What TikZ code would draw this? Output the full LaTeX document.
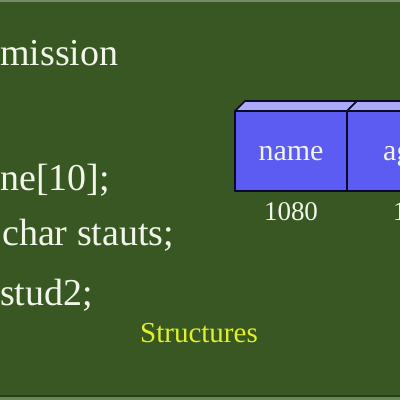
\documentclass[tikz,border=0pt]{standalone}
\usepackage{fontspec}
\setmainfont{Liberation Serif}
\definecolor{bg}{RGB}{56,87,35}
\definecolor{edgetop}{RGB}{120,140,108}
\definecolor{edgebot}{RGB}{105,135,85}
\definecolor{edgedark}{RGB}{40,62,26}
\definecolor{front}{RGB}{92,92,242}
\definecolor{topface}{RGB}{172,170,248}
\definecolor{boxline}{RGB}{10,10,40}
\definecolor{txt}{RGB}{242,246,234}
\definecolor{yel}{RGB}{226,240,40}
\tikzset{
  codetext/.style={text=txt, anchor=base west, inner sep=0pt, font=\fontsize{38}{40}\selectfont},
  boxlabel/.style={text=txt, anchor=base, inner sep=0pt, font=\fontsize{30}{32}\selectfont},
  addrlabel/.style={text=txt, anchor=base, inner sep=0pt, font=\fontsize{27}{30}\selectfont},
  cell/.style={draw=boxline, line width=1.6pt, line join=round},
}
\begin{document}
\begin{tikzpicture}[x=1pt,y=-1pt]
\useasboundingbox (0,0) rectangle (400,400);
\clip (0,0) rectangle (400,400);
\fill[bg] (-1,-1) rectangle (401,401);
\fill[edgetop] (-1,-1) rectangle (401,2);
\fill[edgedark] (-1,394.5) rectangle (401,396.5);
\fill[edgebot] (-1,396.5) rectangle (401,401);
% code text
\node[codetext] (t1) at (0,65) {mission};
\node[codetext] (t2) at (0,190) {ne[10];};
\node[codetext] (t3) at (2,245) {char stauts;};
\node[codetext] (t4) at (0,305) {stud2;};
% boxes
\fill[topface,cell] (235,111) -- (245,101) -- (357,101) -- (347,111) -- cycle;
\fill[topface,cell] (347,111) -- (357,101) -- (470,101) -- (460,111) -- cycle;
\fill[front,cell] (235,111) rectangle (347,191);
\fill[front,cell] (347,111) rectangle (460,191);
\node[boxlabel] (n1) at (291,160) {name};
\node[boxlabel, anchor=base west] (n2) at (383,160) {ag};
\node[addrlabel] (a1) at (291,220) {1080};
\node[addrlabel, anchor=base west] (a2) at (393,220) {1};
\node[text=yel, anchor=base, inner sep=0pt, font=\fontsize{29}{31}\selectfont] (cap) at (199,342) {Structures};
\end{tikzpicture}
\end{document}
